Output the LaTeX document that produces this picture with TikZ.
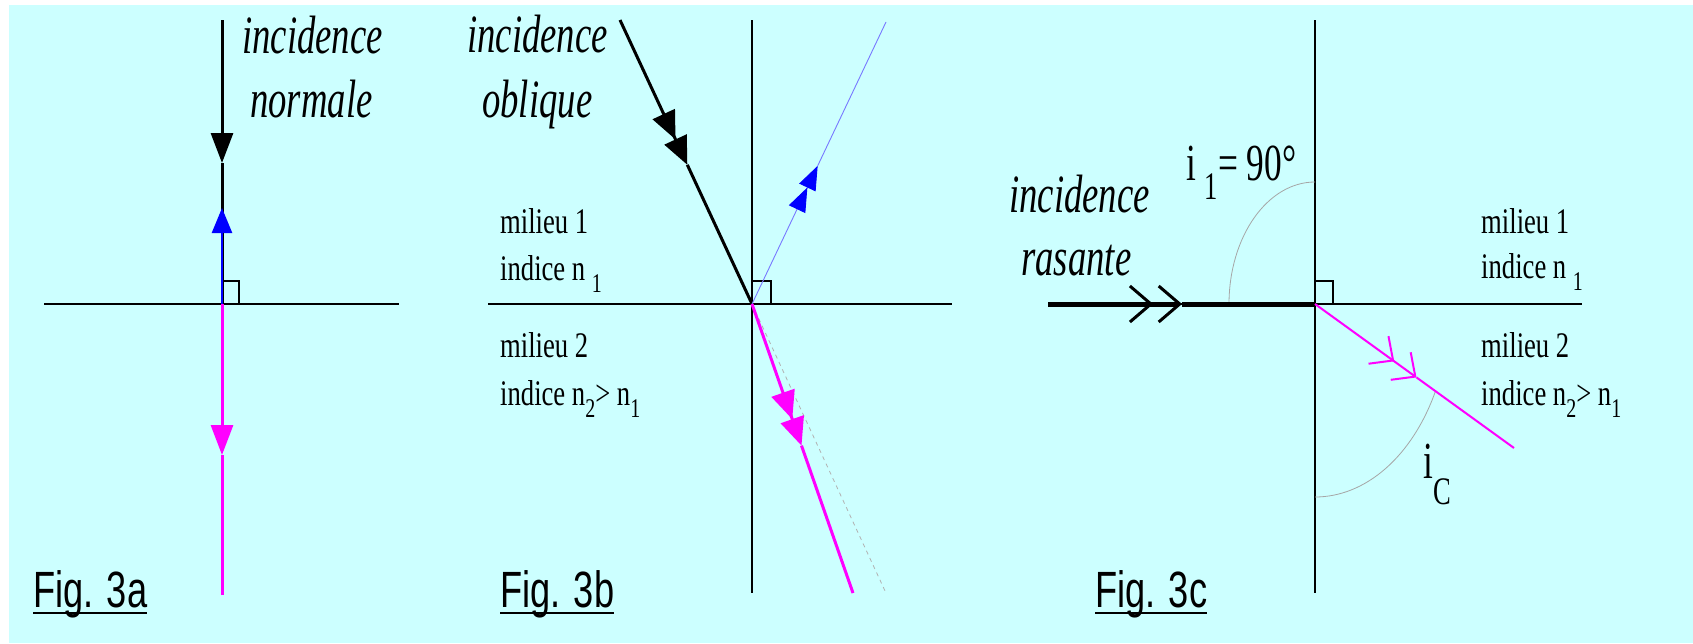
\documentclass[tikz,border=0pt]{standalone}
\usepackage{fontspec}
\setmainfont{Liberation Serif}
\newfontfamily\figfont{Liberation Sans}
\usepackage{graphicx}
\usetikzlibrary{arrows.meta,calc}
\definecolor{bgcyan}{RGB}{204,255,255}
\definecolor{magray}{RGB}{255,0,255}
\definecolor{reflblue}{RGB}{120,120,255}
\newcommand{\squeeze}[2][0.74]{\scalebox{#1}[1]{#2}}
\newcommand{\lowsub}[2][0.36em]{\raisebox{-#1}{\scalebox{0.75}{#2}}}
\begin{document}
\begin{tikzpicture}[x=1pt,y=-1pt,
    axis/.style={black,line width=1.6pt},
    rightangle/.style={black,line width=1.4pt},
    incident/.style={black,line width=3pt},
    grazing/.style={black,line width=5pt},
    refracted/.style={magray,line width=3pt},
    refracted thin/.style={magray,line width=2pt},
    reflected/.style={blue,line width=2.5pt},
    reflected thin/.style={reflblue,line width=0.9pt},
    angle arc/.style={gray!70,line width=0.8pt},
    extension/.style={gray!60,line width=0.8pt,dash pattern=on 4pt off 4pt},
    milieu text/.style={inner sep=0pt,anchor=base west,font=\fontsize{36}{40}\selectfont},
    ray text/.style={inner sep=0pt,anchor=base west,font=\fontsize{54}{60}\selectfont\itshape},
    angle text/.style={inner sep=0pt,anchor=base west,font=\fontsize{52}{58}\selectfont},
    fig text/.style={inner sep=0pt,anchor=base west,font=\figfont\fontsize{51}{56}\selectfont},
    solid head/.style={-{Triangle[length=30pt,width=22pt]}},
    double head/.style={-{Triangle[length=28pt,width=24pt]Triangle[length=28pt,width=24pt]}},
    blue heads/.style={-{Triangle[length=24pt,width=18pt,color=blue]Triangle[length=24pt,width=18pt,color=blue]}},
    open heads/.style={-{Straight Barb[length=21pt,width=36pt,line width=3pt,sep=4pt]Straight Barb[length=21pt,width=36pt,line width=3pt]}},
    thin open heads/.style={-{Straight Barb[length=18pt,width=34pt,line width=2pt,sep=7pt]Straight Barb[length=18pt,width=34pt,line width=2pt]}}]
    \useasboundingbox (0,0) rectangle (1693,643);
    \fill[bgcyan] (9,5) rectangle (1693,643);

    % Fig. 3a
    \coordinate (O1) at (222,304);
    \coordinate (S1) at (222,20);
    \coordinate (H1) at (222,163);
    \coordinate (R1) at (222,208);
    \coordinate (T1) at (222,455);
    \coordinate (E1) at (222,595);
    \coordinate (L1) at (44,304);
    \coordinate (K1) at (399,304);
    \draw[axis] (L1) -- (K1);
    \draw[rightangle] ($(O1)+(0,-23)$) -| ($(O1)+(17,0)$);
    \draw[incident,solid head] (S1) -- (H1);
    \draw[incident] (H1) -- (O1);
    \draw[reflected,-{Triangle[length=25pt,width=20pt]}] (O1) -- (R1);
    \draw[refracted,solid head] (O1) -- (T1);
    \draw[refracted] (T1) -- (E1);
    \node[ray text] (inc1) at (242,53) {\squeeze[0.68]{incidence}};
    \node[ray text] (nor1) at (250,117) {\squeeze[0.68]{normale}};
    \node[fig text] (figA) at (33,607) {\squeeze[0.71]{Fig. 3a}};
    \draw[line width=2.5pt] ([yshift=-6pt]figA.base west) -- ([yshift=-6pt]figA.base east);

    % Fig. 3b
    \coordinate (O2) at (752,304);
    \coordinate (N2) at (752,20);
    \coordinate (B2) at (752,593);
    \coordinate (L2) at (488,304);
    \coordinate (K2) at (952,304);
    \coordinate (S2) at (620,20);
    \coordinate (R2) at (886,22);
    \coordinate (E2) at (853,593);
    \coordinate (D2) at (886,593);
    \coordinate (H2) at ($(S2)!0.51!(O2)$);
    \coordinate (M2) at ($(O2)!0.49!(R2)$);
    \coordinate (T2) at ($(O2)!0.49!(E2)$);
    \draw[axis] (L2) -- (K2);
    \draw[axis] (N2) -- (B2);
    \draw[rightangle] ($(O2)+(0,-23)$) -| ($(O2)+(19,0)$);
    \draw[extension] (O2) -- (D2);
    \draw[incident,double head] (S2) -- (H2);
    \draw[incident] (H2) -- (O2);
    \draw[reflected thin,blue heads] (O2) -- (M2);
    \draw[reflected thin] (M2) -- (R2);
    \draw[refracted,double head] (O2) -- (T2);
    \draw[refracted] (T2) -- (E2);
    \node[ray text] (inc2) at (467,52) {\squeeze[0.68]{incidence}};
    \node[ray text] (obl2) at (482,117) {\squeeze[0.68]{oblique}};
    \node[milieu text] (mil1b) at (500,233) {\squeeze{milieu 1}};
    \node[milieu text] (ind1b) at (500,280) {\squeeze{indice n \lowsub{1}}};
    \node[milieu text] (mil2b) at (500,357) {\squeeze{milieu 2}};
    \node[milieu text] (ind2b) at (500,405) {\squeeze{indice n\lowsub{2}> n\lowsub{1}}};
    \node[fig text] (figB) at (500,607) {\squeeze[0.71]{Fig. 3b}};
    \draw[line width=2.5pt] ([yshift=-6pt]figB.base west) -- ([yshift=-6pt]figB.base east);

    % Fig. 3c
    \coordinate (O3) at (1315,304);
    \coordinate (N3) at (1315,20);
    \coordinate (B3) at (1315,593);
    \coordinate (L3) at (1048,304);
    \coordinate (K3) at (1582,304);
    \coordinate (G3) at (1182,304);
    \coordinate (E3) at (1514,448);
    \coordinate (T3) at ($(O3)!0.51!(E3)$);
    \coordinate (A3) at (1315,182);
    \coordinate (C3) at (1315,497);
    \draw[axis] (L3) -- (K3);
    \draw[axis] (N3) -- (B3);
    \draw[rightangle] ($(O3)+(0,-23)$) -| ($(O3)+(18,0)$);
    \draw[angle arc] (A3) arc[start angle=90,end angle=180,x radius=86pt,y radius=122pt];
    \draw[angle arc] (C3) arc[start angle=270,end angle=333,x radius=135pt,y radius=193pt];
    \draw[grazing,open heads] (L3) -- (G3);
    \draw[grazing] (G3) -- (O3);
    \draw[refracted thin,thin open heads] (O3) -- (T3);
    \draw[refracted thin] (T3) -- (E3);
    \node[ray text] (inc3) at (1009,212) {\squeeze[0.68]{incidence}};
    \node[ray text] (ras3) at (1021,275) {\squeeze[0.68]{rasante}};
    \node[angle text] (ione) at (1186,180) {\squeeze[0.68]{i \lowsub[0.38em]{1}= 90°}};
    \node[angle text] (icrit) at (1423,478) {\squeeze[0.68]{i\lowsub[0.5em]{C}}};
    \node[milieu text] (mil1c) at (1481,233) {\squeeze{milieu 1}};
    \node[milieu text] (ind1c) at (1481,278) {\squeeze{indice n \lowsub{1}}};
    \node[milieu text] (mil2c) at (1481,357) {\squeeze{milieu 2}};
    \node[milieu text] (ind2c) at (1481,405) {\squeeze{indice n\lowsub{2}> n\lowsub{1}}};
    \node[fig text] (figC) at (1095,607) {\squeeze[0.71]{Fig. 3c}};
    \draw[line width=2.5pt] ([yshift=-6pt]figC.base west) -- ([yshift=-6pt]figC.base east);
\end{tikzpicture}
\end{document}
